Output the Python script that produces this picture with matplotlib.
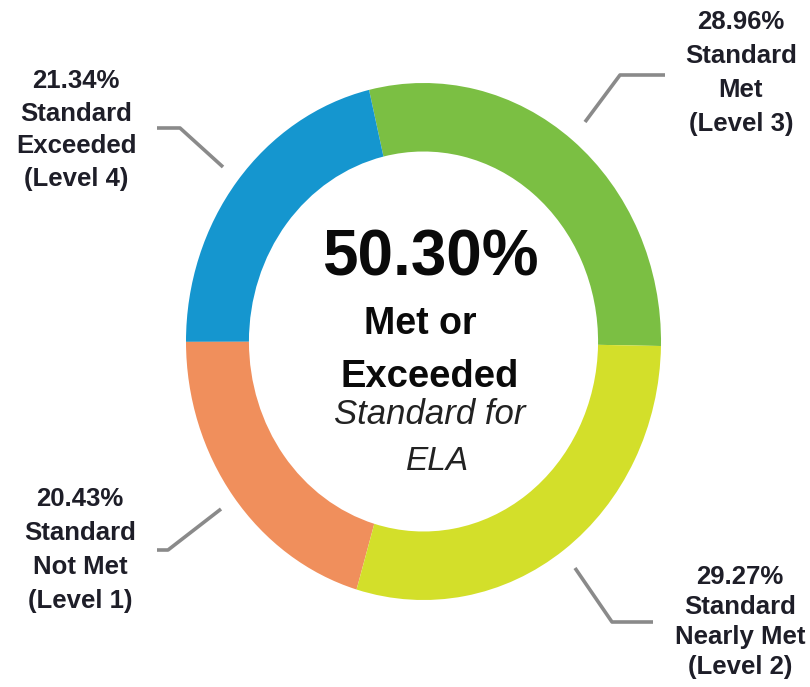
import matplotlib
matplotlib.use("Agg")
import matplotlib.pyplot as plt

# Data
categories = ["Standard Met (Level 3)", "Standard Exceeded (Level 4)",
              "Standard Not Met (Level 1)", "Standard Nearly Met (Level 2)"]
values = [28.96, 21.34, 20.43, 29.27]
colors = ["#7bbf43", "#1596cf", "#f08f5c", "#d3df2a"]
label_texts = ["28.96%\nStandard\nMet\n(Level 3)",
               "21.34%\nStandard\nExceeded\n(Level 4)",
               "20.43%\nStandard\nNot Met\n(Level 1)",
               "29.27%\nStandard\nNearly Met\n(Level 2)"]
center_value = "50.30%"

plt.rcParams['font.family'] = ['Liberation Sans', 'DejaVu Sans']

W, H = 810, 687
fig = plt.figure(figsize=(W / 100, H / 100), dpi=100)
fig.patch.set_facecolor("white")

# Pie axes (elliptical bbox as in reference)
x0, x1, y0, y1 = 186, 661, 83, 600
axp = fig.add_axes([x0 / W, (H - y1) / H, (x1 - x0) / W, (y1 - y0) / H])
axp.pie(values, colors=colors, startangle=-1, counterclock=True,
        radius=1.0, wedgeprops=dict(width=0.265, edgecolor="none"))
axp.set_aspect("auto")
axp.set_xlim(-1, 1)
axp.set_ylim(-1, 1)
axp.axis("off")

# Overlay axes in pixel coordinates
ax = fig.add_axes([0, 0, 1, 1], facecolor="none")
ax.set_xlim(0, W)
ax.set_ylim(H, 0)
ax.axis("off")

line_kw = dict(color="#8a8a8a", lw=2.6, solid_capstyle="butt")
# leader lines
ax.plot([585, 620, 665], [122, 75, 75], **line_kw)
ax.plot([157, 180, 223], [128, 128, 167], **line_kw)
ax.plot([157, 168, 221], [550, 550, 509], **line_kw)
ax.plot([575, 612, 653], [568, 622, 622], **line_kw)

lab_kw = dict(ha="center", va="center", fontsize=18.5, fontweight="bold",
              color="#1e1e28")
ax.text(741, 73, label_texts[0], linespacing=1.52, **lab_kw)
ax.text(76, 130, label_texts[1], linespacing=1.47, **lab_kw)
ax.text(80, 550, label_texts[2], linespacing=1.52, **lab_kw)
ax.text(740, 622, label_texts[3], linespacing=1.33, **lab_kw)

# Center text
ax.text(430, 258, center_value, ha="center", va="center", fontsize=46,
        fontweight="bold", color="#0a0a0a")
ax.text(420, 324, "Met or", ha="center", va="center", fontsize=27,
        fontweight="bold", color="#0a0a0a")
ax.text(430, 377, "Exceeded", ha="center", va="center", fontsize=27.5,
        fontweight="bold", color="#0a0a0a")
ax.text(430, 414, "Standard for", ha="center", va="center", fontsize=25,
        fontstyle="italic", color="#222222")
ax.text(438, 461, "ELA", ha="center", va="center", fontsize=24,
        fontstyle="italic", color="#222222")

fig.savefig("out.png", dpi=100, facecolor="white")
